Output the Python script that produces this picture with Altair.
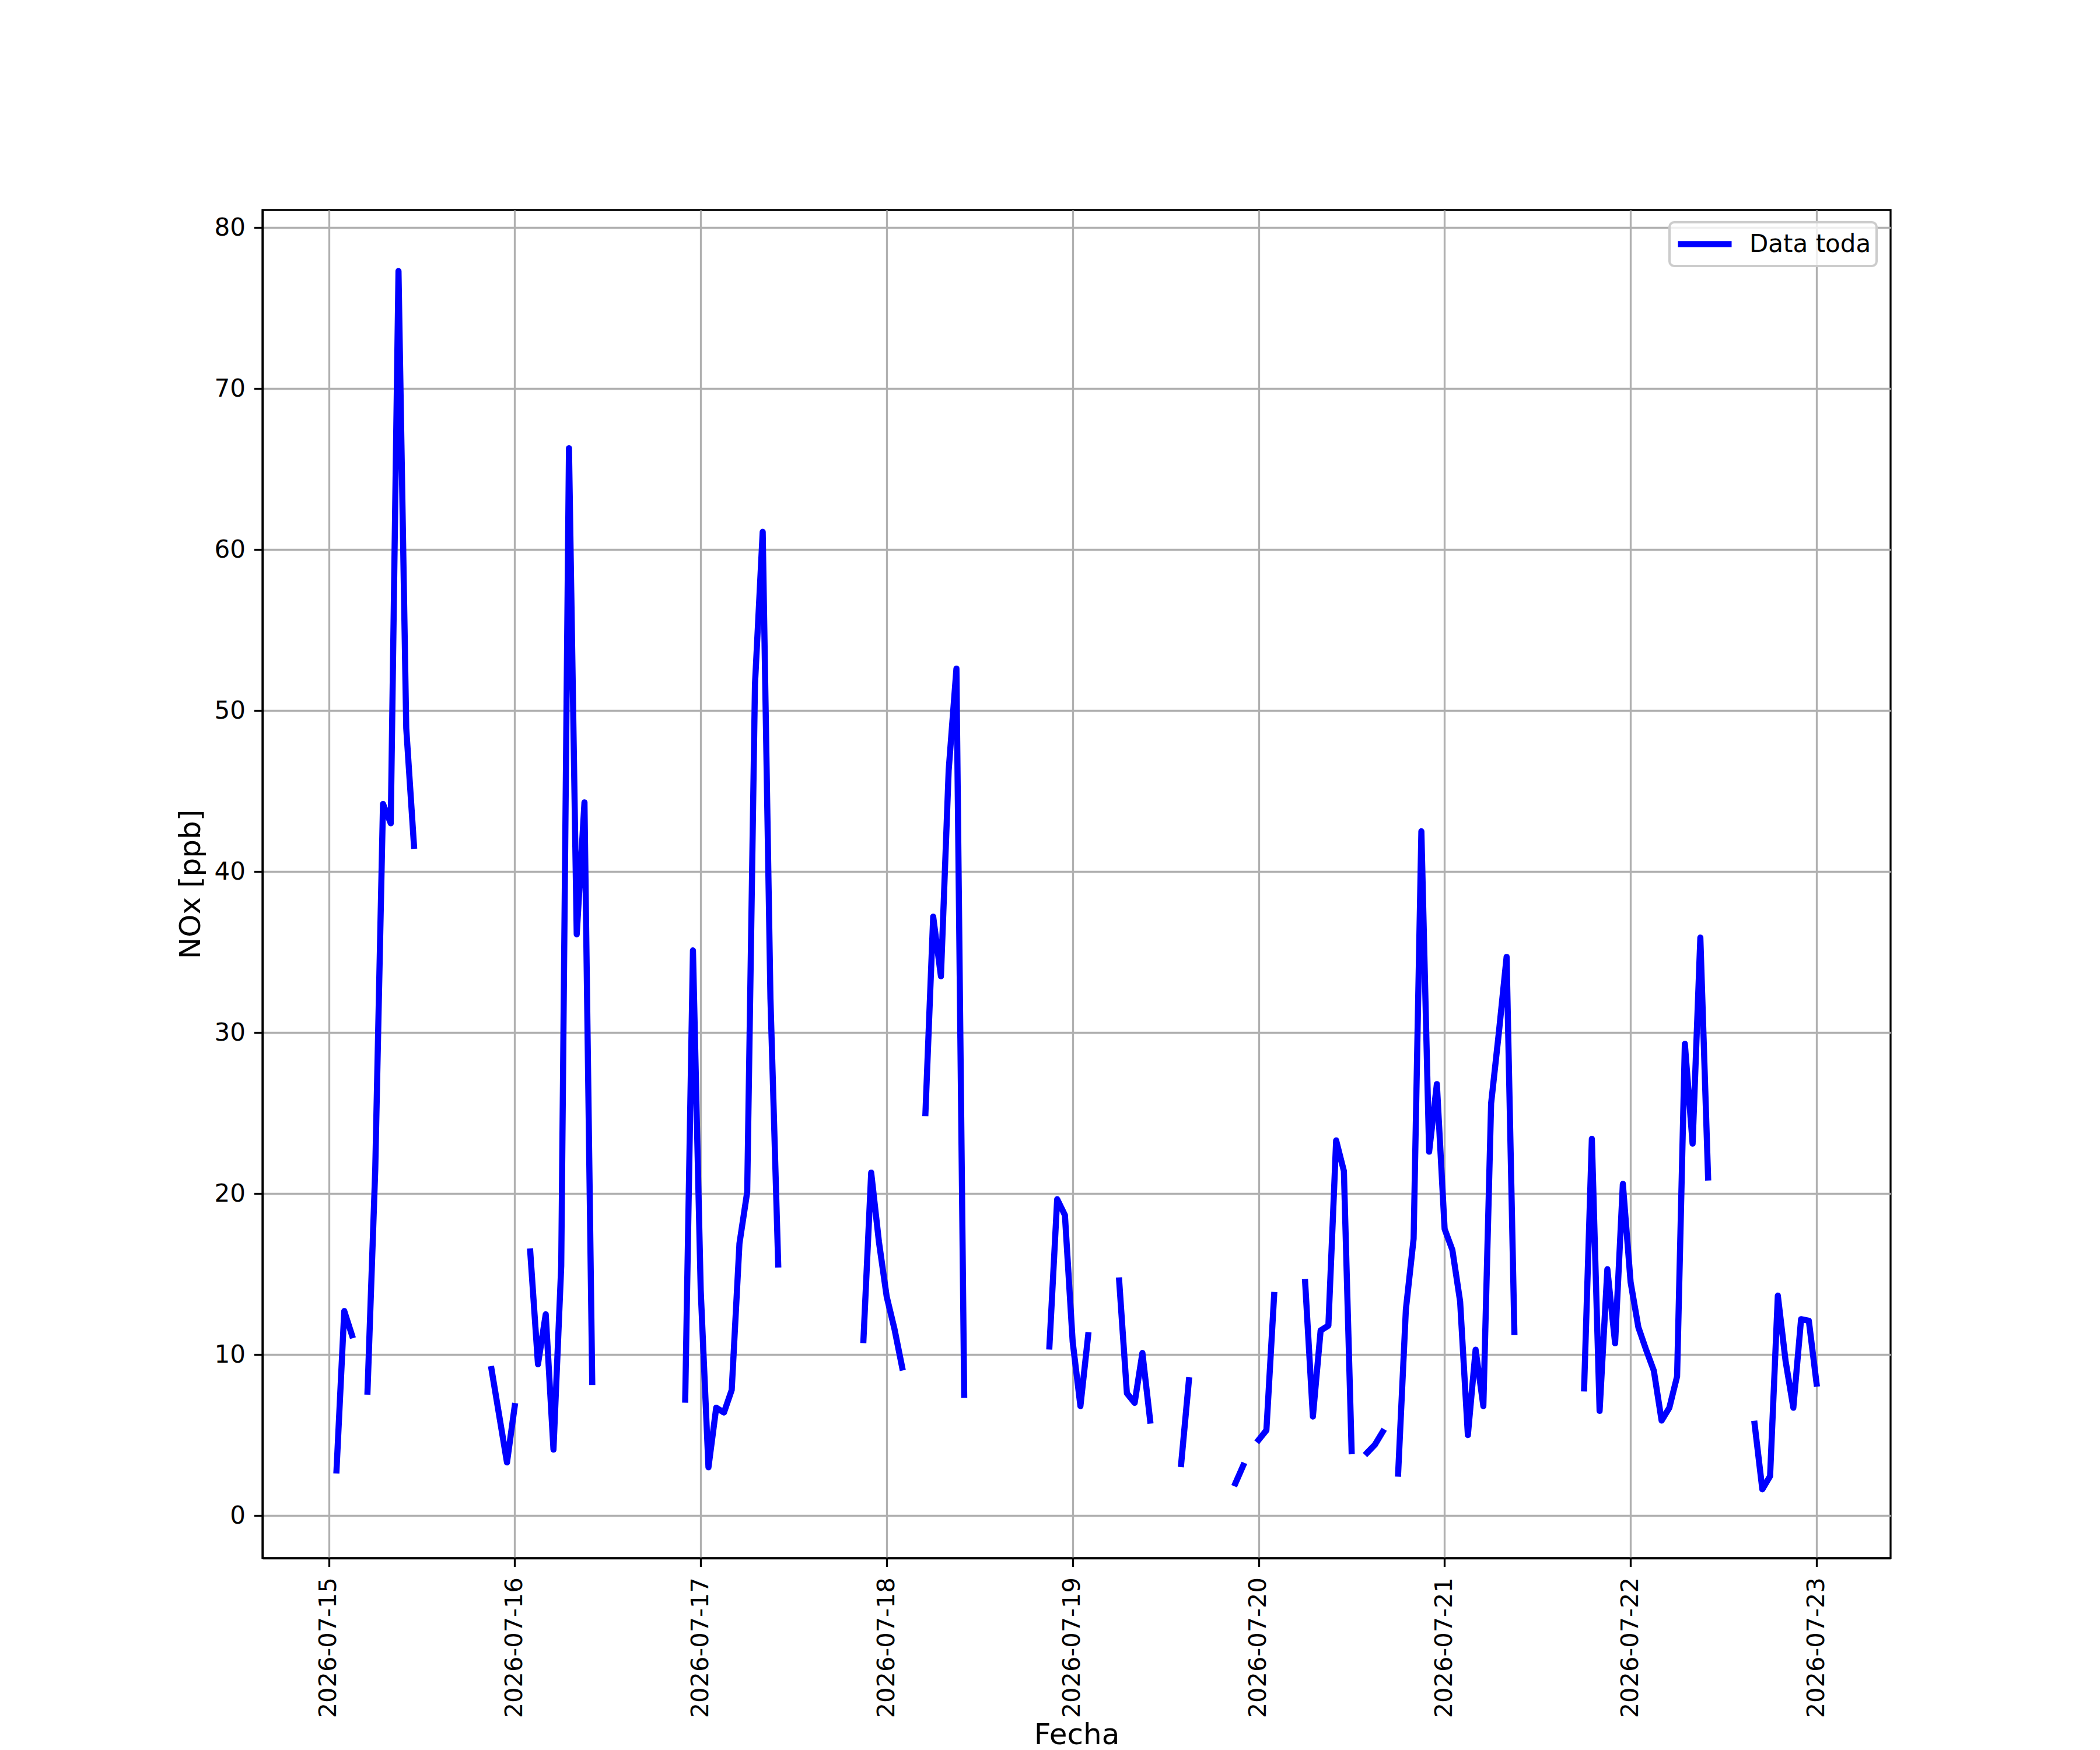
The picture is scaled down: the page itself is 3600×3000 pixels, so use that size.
import altair as alt
import pandas as pd

# NOx [ppb] hourly values, one list per day (hour 0..23); None = no data
dia_15 = [None, 2.8, 12.7, 11.2, None, 7.7, 21.5, 44.2, 43.0, 77.3, 48.9, 41.6,
          None, None, None, None, None, None, None, None, None, 9.1, 6.2, 3.3]
dia_16 = [6.8, None, 16.4, 9.4, 12.5, 4.1, 15.5, 66.3, 36.1, 44.3, 8.3, None,
          None, None, None, None, None, None, None, None, None, None, 7.2, 35.1]
dia_17 = [14.0, 3.0, 6.7, 6.4, 7.8, 16.9, 20.1, 51.6, 61.1, 32.1, 15.6, None,
          None, None, None, None, None, None, None, None, None, 10.9, 21.3, 17.0]
dia_18 = [13.6, 11.6, 9.2, None, None, 25.0, 37.2, 33.5, 46.3, 52.6, 7.5, None,
          None, None, None, None, None, None, None, None, None, 10.5, 19.65, 18.66]
dia_19 = [10.8, 6.8, 11.2, None, None, None, 14.6, 7.6, 7.0, 10.1, 5.9, None,
          None, None, 3.2, 8.4, None, None, None, None, None, 2.0, 3.1, None]
dia_20 = [4.7, 5.3, 13.7, None, None, None, 14.5, 6.15, 11.5, 11.8, 23.3, 21.4,
          4.0, None, 3.9, 4.4, 5.2, None, 2.6, 12.8, 17.2, 42.5, 22.6, 26.8]
dia_21 = [17.8, 16.5, 13.3, 5.0, 10.3, 6.8, 25.6, 30.0, 34.7, 11.4, None, None,
          None, None, None, None, None, None, 7.9, 23.4, 6.5, 15.3, 10.7, 20.6]
dia_22 = [14.5, 11.7, 10.3, 9.0, 5.9, 6.7, 8.65, 29.3, 23.1, 35.9, 21.0, None,
          None, None, None, None, 5.7, 1.63, 2.45, 13.66, 9.6, 6.7, 12.2, 12.1]
dia_23 = [8.2]

dias = ["2026-07-15", "2026-07-16", "2026-07-17", "2026-07-18", "2026-07-19",
        "2026-07-20", "2026-07-21", "2026-07-22", "2026-07-23"]
valores_dia = [dia_15, dia_16, dia_17, dia_18, dia_19, dia_20, dia_21, dia_22, dia_23]

rows = []
seg = 0
prev_none = True
for dia, vals in zip(dias, valores_dia):
    for hora, v in enumerate(vals):
        if v is None:
            prev_none = True
            continue
        if prev_none:
            seg += 1
            prev_none = False
        rows.append({"fecha": f"{dia}T{hora:02d}:00:00", "nox": v,
                     "seg": seg, "serie": "Data toda"})
df = pd.DataFrame(rows)

FONT = "DejaVu Sans"
LW = 3.3
LINE_W = 10.5

x_ticks = [alt.DateTime(year=2026, month=7, date=d) for d in range(15, 24)]

chart = alt.Chart(df).mark_line(
    strokeJoin="round", strokeCap="square", strokeWidth=LINE_W
).encode(
    x=alt.X("fecha:T",
            scale=alt.Scale(domain=[alt.DateTime(year=2026, month=7, date=14, hours=15, minutes=27),
                                    alt.DateTime(year=2026, month=7, date=23, hours=9, minutes=33)],
                            nice=False),
            axis=alt.Axis(values=x_ticks, format="%Y-%m-%d", labelAngle=-90,
                          title="Fecha", titleBaseline="alphabetic", titleY=318,
                          labelPadding=18, labelFontSize=41.5,
                          labelOverlap=False, labelFlush=False, labelLimit=2000)),
    y=alt.Y("nox:Q",
            scale=alt.Scale(domain=[-2.64, 81.09], nice=False, zero=False),
            axis=alt.Axis(values=list(range(0, 81, 10)), title="NOx [ppb]",
                          titlePadding=14, labelPadding=15, labelLimit=2000)),
    color=alt.Color("serie:N",
                    scale=alt.Scale(domain=["Data toda"], range=["#0000ff"]),
                    legend=alt.Legend(title=None, orient="none", legendX=2412, legendY=21,
                                      symbolType="stroke", symbolSize=8464,
                                      symbolStrokeWidth=LINE_W, clipHeight=57,
                                      labelFontSize=42, labelFont=FONT, labelColor="black",
                                      labelOffset=25, labelLimit=2000, padding=9,
                                      strokeColor="#cccccc", fillColor="rgba(255,255,255,0.8)",
                                      cornerRadius=8)),
    detail="seg:N",
).properties(
    width=2791, height=2311,
    padding={"left": 442, "top": 352, "right": 351, "bottom": 330},
    autosize=alt.AutoSizeParams(type="none"),
).configure_view(
    stroke="black", strokeWidth=LW
).configure_axis(
    labelFont=FONT, titleFont=FONT, labelFontSize=42, titleFontSize=50,
    titleFontWeight="normal", labelColor="black", titleColor="black",
    tickColor="black", tickWidth=LW, tickSize=14.6,
    domainColor="black", domainWidth=LW,
    grid=True, gridColor="#b0b0b0", gridWidth=LW, gridOpacity=1,
).configure_legend(
    strokeWidth=4
)

chart.save("out.html", embed_options={"renderer": "svg", "actions": False})
